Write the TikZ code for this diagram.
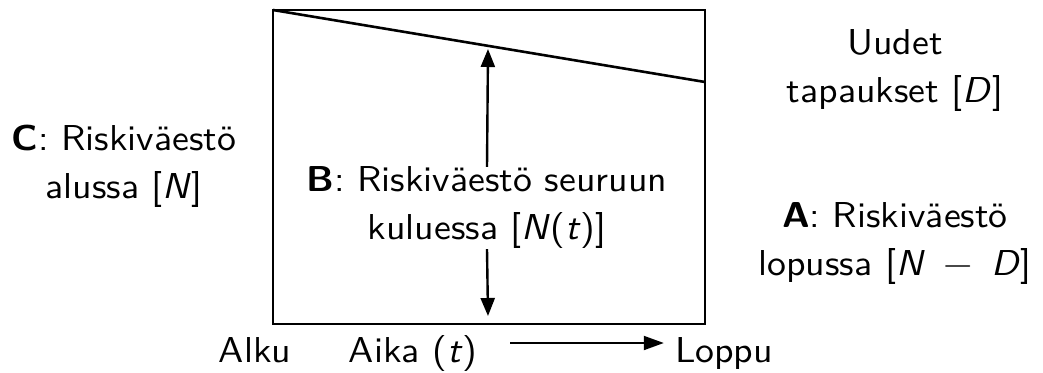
\documentclass[tikz,border=0pt]{standalone}
\usepackage{fontspec}
\setsansfont{lmsans10-regular.otf}[
  BoldFont=lmsans10-bold.otf,
  ItalicFont=lmsans10-oblique.otf,
  SlantedFont=lmsans10-oblique.otf,
  BoldItalicFont=lmsans10-boldoblique.otf,
  FakeStretch=1.05]
\usetikzlibrary{arrows.meta}
\begin{document}
\begin{tikzpicture}[x=1pt,y=-1pt,
  lbl/.style={font=\sffamily\fontsize{36}{48}\selectfont, align=center, inner sep=0pt},
  frame/.style={line width=2.6pt},
  arr/.style={line width=2.4pt, -{Triangle[width=14pt,length=18pt]}}]
\useasboundingbox (0,0) rectangle (1043,372);
\node[frame, draw, minimum width=432pt, minimum height=314pt, inner sep=0pt] (box) at (489,167) {};
\coordinate (tl) at (273,10);
\coordinate (tr) at (705,82);
\draw[frame] (tl) -- (tr);
\coordinate (top) at (488,49);
\coordinate (bot) at (488,316);
\node[lbl] (B) at (487,208) {\textbf{B}: Riskiväestö seuruun\\kuluessa [\textsl{N}(\textsl{t})]};
\draw[arr] (B.north) -- (top);
\draw[arr] (B.south) -- (bot);
\node[lbl] (U) at (895,71) {Uudet\\tapaukset [\textsl{D}]};
\node[lbl] (C) at (124,166) {\textbf{C}: Riskiväestö\\alussa [\textsl{N}]};
\node[lbl] (A) at (895,244) {\textbf{A}: Riskiväestö\\lopussa [\textsl{N}\hspace{6pt} − \hspace{6pt}\textsl{D}]};
\node[lbl, anchor=base] (alku) at (255,362) {Alku};
\node[lbl, anchor=base] (aika) at (413,362) {Aika (\textsl{t})};
\node[lbl, anchor=base, inner sep=0pt] (loppu) at (724,362) {Loppu};
\coordinate (as) at (510,343);
\draw[line width=2pt, -{Triangle[width=14pt,length=20pt]}] (as) -- ([xshift=-11pt]as -| loppu.west);
\end{tikzpicture}
\end{document}
